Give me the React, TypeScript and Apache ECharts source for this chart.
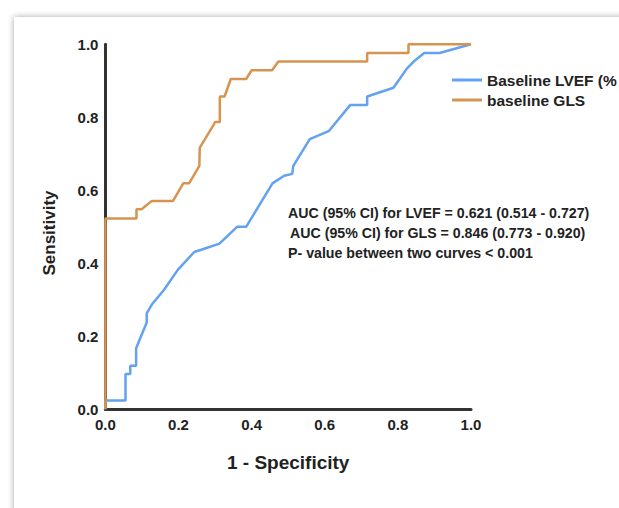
import React, { useEffect, useRef } from "react";
import * as echarts from "echarts";

// ROC curve points (1 - Specificity, Sensitivity)
const lvefFpr = [0, 0, 0.055, 0.055, 0.068, 0.068, 0.084, 0.084, 0.113, 0.113, 0.127, 0.160, 0.198, 0.243, 0.262, 0.312, 0.360, 0.385, 0.457, 0.489, 0.511, 0.514, 0.559, 0.612, 0.632, 0.670, 0.716, 0.716, 0.788, 0.825, 0.846, 0.872, 0.914, 1.0];
const lvefTpr = [0, 0.024, 0.024, 0.097, 0.097, 0.119, 0.119, 0.167, 0.238, 0.263, 0.287, 0.327, 0.382, 0.431, 0.437, 0.454, 0.500, 0.500, 0.619, 0.640, 0.645, 0.667, 0.740, 0.763, 0.788, 0.834, 0.834, 0.857, 0.881, 0.934, 0.955, 0.976, 0.976, 1.0];

const glsFpr = [0, 0, 0.085, 0.085, 0.099, 0.127, 0.185, 0.213, 0.229, 0.257, 0.258, 0.296, 0.300, 0.313, 0.313, 0.326, 0.343, 0.385, 0.400, 0.456, 0.473, 0.716, 0.716, 0.829, 0.829, 1.0];
const glsTpr = [0, 0.523, 0.523, 0.548, 0.548, 0.571, 0.571, 0.619, 0.619, 0.667, 0.716, 0.779, 0.787, 0.787, 0.857, 0.857, 0.905, 0.905, 0.929, 0.929, 0.953, 0.953, 0.976, 0.976, 1.0, 1.0];

const seriesNames = ["Baseline LVEF (%", "baseline GLS"];
const tickLabels = ["0.0", "0.2", "0.4", "0.6", "0.8", "1.0"];
const annotations = [
  "AUC (95% CI) for LVEF = 0.621 (0.514 - 0.727)",
  "AUC (95% CI) for GLS = 0.846 (0.773 - 0.920)",
  "P- value between two curves < 0.001",
];

const BLUE = "#62a2f0";
const ORANGE = "#d69450";
const FONT = "Liberation Sans, Arial, sans-serif";

const zip = (xs: number[], ys: number[]) => xs.map((x, i) => [x, ys[i]]);

export default function App() {
  const ref = useRef<HTMLDivElement>(null);
  useEffect(() => {
    if (!ref.current) return;
    const chart = echarts.init(ref.current, null, { renderer: "svg" });
    const axisLabel = {
      fontFamily: FONT,
      fontSize: 15,
      fontWeight: "bold" as const,
      color: "#222",
      formatter: (v: number) => tickLabels[Math.round(v * 5)] ?? "",
    };
    chart.setOption({
      animation: false,
      backgroundColor: "#fff",
      textStyle: { fontFamily: FONT },
      grid: {
        left: 105.4,
        top: 44.3,
        width: 365.6,
        height: 365,
        containLabel: false,
        outerBoundsMode: "none",
      },
      xAxis: {
        type: "value",
        min: 0,
        max: 1,
        interval: 0.2,
        axisLine: { show: true, lineStyle: { color: "#333", width: 3 } },
        axisTick: { show: false },
        splitLine: { show: false },
        axisLabel: { ...axisLabel, margin: 8 },
        name: "1 - Specificity",
        nameLocation: "middle",
        nameGap: 44,
        nameTextStyle: { fontFamily: FONT, fontSize: 19, fontWeight: "bold", color: "#222" },
      },
      yAxis: {
        type: "value",
        min: 0,
        max: 1,
        interval: 0.2,
        axisLine: { show: true, lineStyle: { color: "#333", width: 3 } },
        axisTick: { show: false },
        splitLine: { show: false },
        axisLabel: { ...axisLabel, margin: 7, padding: [6, 0, 0, 0] },
      },
      legend: {
        orient: "vertical",
        left: 447,
        top: 67,
        itemWidth: 30,
        itemHeight: 16,
        itemGap: 4,
        icon: "path://M0,7 L30,7 L30,10 L0,10 Z",
        textStyle: { fontFamily: FONT, fontSize: 15.5, fontWeight: "bold", color: "#222" },
        data: seriesNames,
      },
      graphic: [
        {
          type: "rect",
          z: -10,
          shape: { x: 14, y: 17, width: 640, height: 520 },
          style: { fill: "#fff", shadowBlur: 6, shadowColor: "rgba(0,0,0,0.35)" },
          silent: true,
        },
        {
          type: "text",
          x: 49,
          y: 233,
          rotation: Math.PI / 2,
          style: {
            text: "Sensitivity",
            fontFamily: FONT,
            fontSize: 17,
            fontWeight: "bold",
            fill: "#222",
            align: "center",
            verticalAlign: "middle",
          },
        },
        ...annotations.map((t, i) => ({
          type: "text",
          x: [288, 290, 288][i],
          y: [213.3, 232.5, 253.3][i],
          style: {
            text: t,
            fontFamily: FONT,
            fontSize: 14.2,
            fontWeight: "bold",
            fill: "#222",
            align: "left",
            verticalAlign: "middle",
          },
        })),
      ],
      series: [
        {
          name: seriesNames[0],
          type: "line",
          data: zip(lvefFpr, lvefTpr),
          symbol: "none",
          lineStyle: { color: BLUE, width: 2.5 },
          itemStyle: { color: BLUE },
          z: 3,
        },
        {
          name: seriesNames[1],
          type: "line",
          data: zip(glsFpr, glsTpr),
          symbol: "none",
          lineStyle: { color: ORANGE, width: 2.5 },
          itemStyle: { color: ORANGE },
          z: 4,
        },
      ],
    });
    return () => chart.dispose();
  }, []);
  return (
    <div
      ref={ref}
      style={{ position: "fixed", left: 0, top: 0, width: 619, height: 508 }}
    />
  );
}
